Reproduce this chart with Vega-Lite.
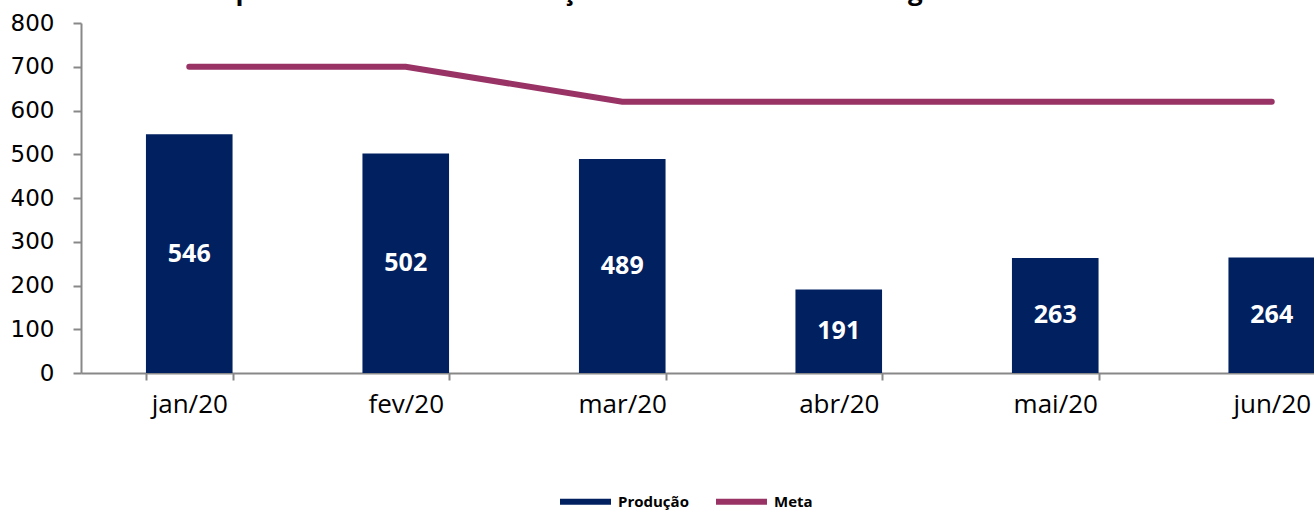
{
  "$schema": "https://vega.github.io/schema/vega-lite/v6.json",
  "width": 1233,
  "height": 350,
  "autosize": {"type": "none"},
  "padding": {"left": 81, "top": 23, "right": 0, "bottom": 137},
  "background": "white",
  "config": {"view": {"stroke": null}},
  "title": {
    "text": "Comparativo Gráfico da Evolução Mensal da Saídas Cirúrgicas X Meta Contratual",
    "font": "Open Sans",
    "fontSize": 26,
    "fontWeight": "bold",
    "color": "#000000",
    "anchor": "middle",
    "baseline": "alphabetic",
    "offset": 0,
    "dy": 14
  },
  "data": {
    "values": [
      {"mes": "jan/20", "producao": 546, "meta": 700},
      {"mes": "fev/20", "producao": 502, "meta": 700},
      {"mes": "mar/20", "producao": 489, "meta": 620},
      {"mes": "abr/20", "producao": 191, "meta": 620},
      {"mes": "mai/20", "producao": 263, "meta": 620},
      {"mes": "jun/20", "producao": 264, "meta": 620}
    ]
  },
  "encoding": {
    "x": {
      "field": "mes",
      "type": "ordinal",
      "sort": null,
      "scale": {"range": [0, 1299], "paddingInner": 0.6, "paddingOuter": 0.3},
      "axis": {
        "title": null,
        "labelAngle": 0,
        "labelFont": "Open Sans",
        "labelFontSize": 26,
        "labelColor": "#000000",
        "labelPadding": 11,
        "tickBand": "extent",
        "tickSize": 7,
        "tickColor": "#888888",
        "domainColor": "#888888",
        "tickWidth": 2,
        "domainWidth": 2
      }
    }
  },
  "layer": [
    {
      "mark": {"type": "bar", "clip": true},
      "encoding": {
        "y": {
          "field": "producao",
          "type": "quantitative",
          "scale": {"domain": [0, 800]},
          "axis": {
            "title": null,
            "values": [0, 100, 200, 300, 400, 500, 600, 700, 800],
            "grid": false,
            "labelFont": "DejaVu Sans",
            "labelFontSize": 23,
            "labelColor": "#000000",
            "labelPadding": 19,
            "tickSize": 8,
            "tickColor": "#888888",
            "domainColor": "#888888",
            "tickWidth": 2,
            "domainWidth": 2
          }
        },
        "color": {
          "datum": "Produção",
          "scale": {"domain": ["Produção", "Meta"], "range": ["#002060", "#993366"]},
          "legend": {
            "title": null,
            "orient": "none",
            "direction": "horizontal",
            "legendX": 476,
            "legendY": 450,
            "symbolType": "stroke",
            "symbolStrokeWidth": 6,
            "symbolSize": 2600,
            "labelFont": "Open Sans",
            "labelFontSize": 15,
            "labelFontWeight": "bold",
            "labelColor": "#000000",
            "columnPadding": 15,
            "labelOffset": 4
          }
        }
      }
    },
    {
      "transform": [{"calculate": "datum.producao / 2", "as": "meio"}],
      "mark": {"type": "text", "color": "white", "font": "Open Sans", "fontSize": 25, "fontWeight": "bold", "baseline": "middle", "clip": true},
      "encoding": {
        "y": {"field": "meio", "type": "quantitative"},
        "text": {"field": "producao", "type": "quantitative"}
      }
    },
    {
      "mark": {"type": "line", "strokeWidth": 6, "strokeCap": "round", "clip": true},
      "encoding": {
        "y": {"field": "meta", "type": "quantitative"},
        "color": {"datum": "Meta"}
      }
    }
  ]
}
